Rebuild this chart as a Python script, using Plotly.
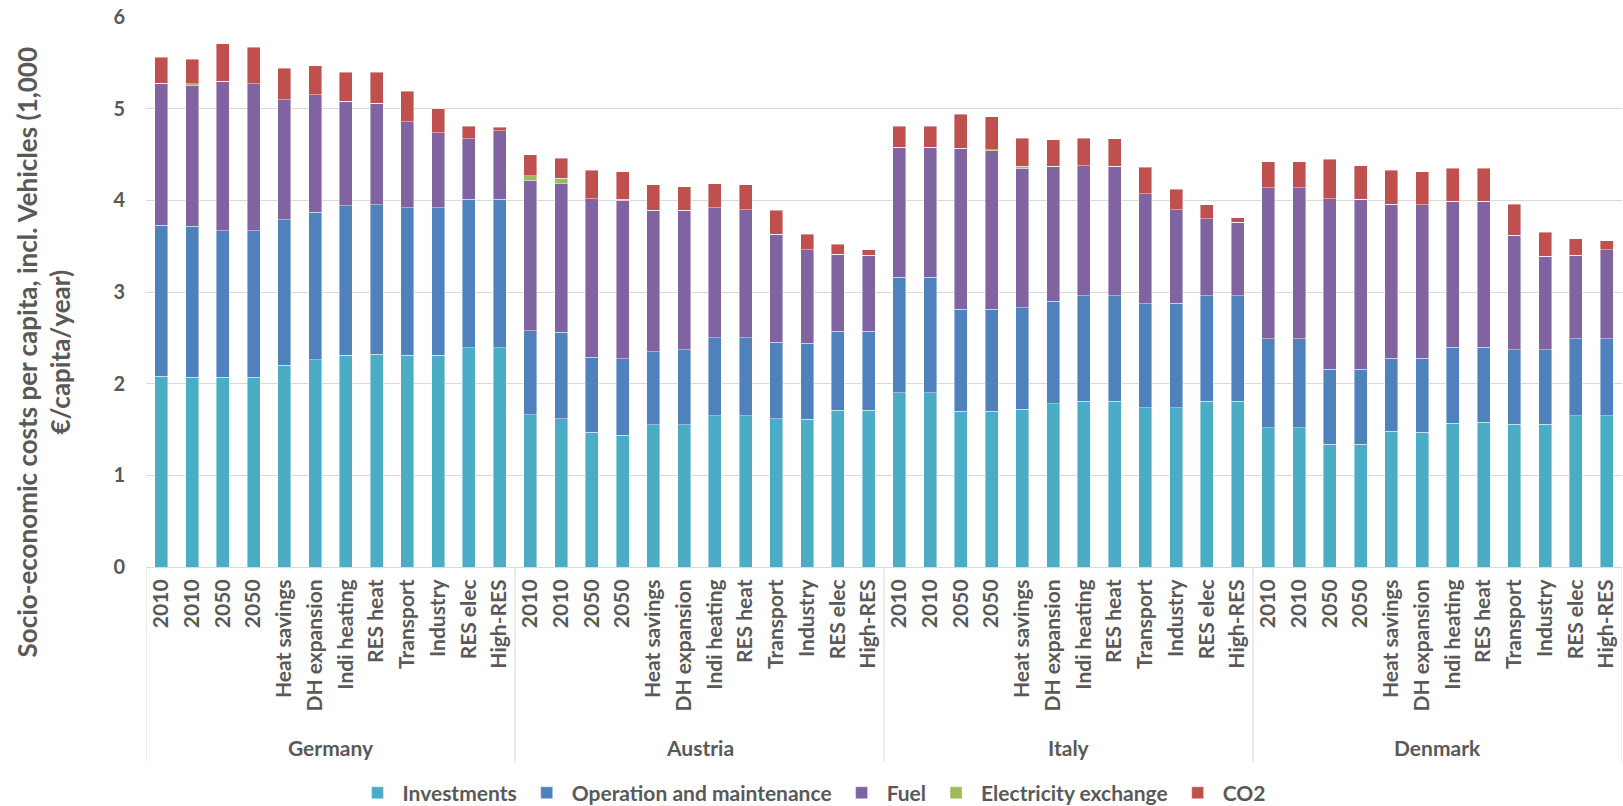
import plotly.graph_objects as go

countries = ["Germany", "Austria", "Italy", "Denmark"]
scenarios = ["2010", "2010", "2050", "2050", "Heat savings", "DH expansion",
             "Indi heating", "RES heat", "Transport", "Industry", "RES elec", "High-RES"]

investments = [
    2.08, 2.07, 2.07, 2.07, 2.20, 2.26, 2.31, 2.32, 2.31, 2.31, 2.39, 2.39,
    1.66, 1.62, 1.47, 1.44, 1.55, 1.55, 1.65, 1.65, 1.62, 1.61, 1.71, 1.71,
    1.90, 1.90, 1.70, 1.70, 1.72, 1.78, 1.81, 1.81, 1.74, 1.74, 1.81, 1.81,
    1.52, 1.52, 1.34, 1.34, 1.48, 1.47, 1.57, 1.58, 1.56, 1.56, 1.65, 1.65,
]
operation_maintenance = [
    1.65, 1.65, 1.60, 1.60, 1.59, 1.61, 1.63, 1.63, 1.61, 1.61, 1.62, 1.62,
    0.92, 0.94, 0.82, 0.83, 0.80, 0.82, 0.85, 0.85, 0.83, 0.83, 0.86, 0.86,
    1.26, 1.26, 1.11, 1.11, 1.11, 1.12, 1.15, 1.15, 1.13, 1.14, 1.15, 1.15,
    0.97, 0.97, 0.82, 0.82, 0.80, 0.81, 0.83, 0.82, 0.81, 0.81, 0.84, 0.84,
]
fuel = [
    1.55, 1.53, 1.63, 1.60, 1.31, 1.28, 1.14, 1.11, 0.94, 0.82, 0.66, 0.75,
    1.64, 1.62, 1.73, 1.73, 1.54, 1.52, 1.42, 1.40, 1.18, 1.02, 0.84, 0.83,
    1.42, 1.42, 1.76, 1.73, 1.52, 1.47, 1.42, 1.41, 1.20, 1.02, 0.84, 0.80,
    1.65, 1.65, 1.86, 1.85, 1.68, 1.67, 1.59, 1.59, 1.25, 1.02, 0.91, 0.97,
]
electricity_exchange = [
    0.00, 0.02, 0.00, 0.00, 0.00, 0.00, 0.00, 0.00, 0.00, 0.00, 0.00, 0.00,
    0.05, 0.06, 0.00, 0.01, 0.00, 0.00, 0.00, 0.00, 0.00, 0.00, 0.00, 0.00,
    0.00, 0.00, 0.00, 0.01, 0.02, 0.00, 0.00, 0.00, 0.00, 0.00, 0.00, 0.00,
    0.00, 0.00, 0.00, 0.00, 0.00, 0.00, 0.00, 0.00, 0.00, 0.00, 0.00, 0.00,
]
co2 = [
    0.28, 0.27, 0.41, 0.40, 0.34, 0.32, 0.32, 0.34, 0.33, 0.26, 0.14, 0.04,
    0.23, 0.22, 0.31, 0.30, 0.28, 0.26, 0.26, 0.27, 0.26, 0.17, 0.11, 0.06,
    0.23, 0.23, 0.37, 0.36, 0.31, 0.29, 0.30, 0.30, 0.29, 0.22, 0.15, 0.05,
    0.28, 0.28, 0.43, 0.37, 0.37, 0.36, 0.36, 0.36, 0.34, 0.26, 0.18, 0.10,
]

series = [
    ("Investments", investments, "#4BACC6"),
    ("Operation and maintenance", operation_maintenance, "#4F81BD"),
    ("Fuel", fuel, "#8064A2"),
    ("Electricity exchange", electricity_exchange, "#9BBB59"),
    ("CO2", co2, "#C0504D"),
]

n_s = len(scenarios)
labels = [s for _ in countries for s in scenarios]
xpos = list(range(len(labels)))

GREY = "#595959"
fig = go.Figure()
for name, vals, col in series:
    fig.add_trace(go.Bar(
        x=xpos, y=vals, name=name,
        marker=dict(color=col, line=dict(color="rgba(255,255,255,0.7)", width=0.6)),
    ))

# group dividers
for k in range(len(countries) + 1):
    xv = k * n_s - 0.5
    fig.add_shape(type="line", xref="x", yref="paper", x0=xv, x1=xv, y0=0, y1=-0.355,
                  line=dict(color="#D9D9D9", width=1))
# country labels
for k, c in enumerate(countries):
    fig.add_annotation(x=k * n_s + (n_s - 1) / 2, xref="x", y=0, yref="paper",
                       yshift=-180, yanchor="middle", text=c, showarrow=False,
                       font=dict(family="Lato", size=21, color=GREY, weight="bold"))

fig.add_annotation(
    text="Socio-economic costs per capita, incl. Vehicles (1,000<br>€/capita/year)",
    xref="paper", yref="paper", x=0, xshift=-103, y=0.39,
    xanchor="center", yanchor="middle", textangle=-90, showarrow=False,
    font=dict(family="Lato", size=26, color=GREY, weight="bold"))

fig.update_layout(
    width=1623, height=806,
    barmode="stack", bargap=0.58,
    plot_bgcolor="white", paper_bgcolor="white",
    margin=dict(l=146, r=1, t=17, b=239, autoexpand=False),
    showlegend=True,
    legend=dict(orientation="h", traceorder="normal", xref="container", yref="container",
                x=0.5, y=0.016, xanchor="center", yanchor="middle",
                font=dict(family="Lato", size=21, color=GREY, weight="bold"),
                itemwidth=40, tracegroupgap=0),
    xaxis=dict(range=[-0.5, len(labels) - 0.5], tickmode="array", tickvals=xpos,
               ticktext=labels, tickangle=-90, showgrid=False, zeroline=False,
               showline=True, linecolor="#D9D9D9", linewidth=1, ticks="",
               ticklabelstandoff=3, automargin=False,
               tickfont=dict(family="Lato", size=21, color=GREY, weight="bold")),
    yaxis=dict(range=[0, 6], dtick=1, showgrid=True, gridcolor="#D9D9D9", gridwidth=1.3,
               zeroline=False, showline=False, ticks="", ticklabelstandoff=20,
               automargin=False,
               tickfont=dict(family="Lato", size=20, color=GREY, weight="bold")),
)

fig.write_html(
    "out.html",
    config={"displayModeBar": False},
    post_script="document.body.style.margin='0';document.body.style.overflow='hidden';",
)
